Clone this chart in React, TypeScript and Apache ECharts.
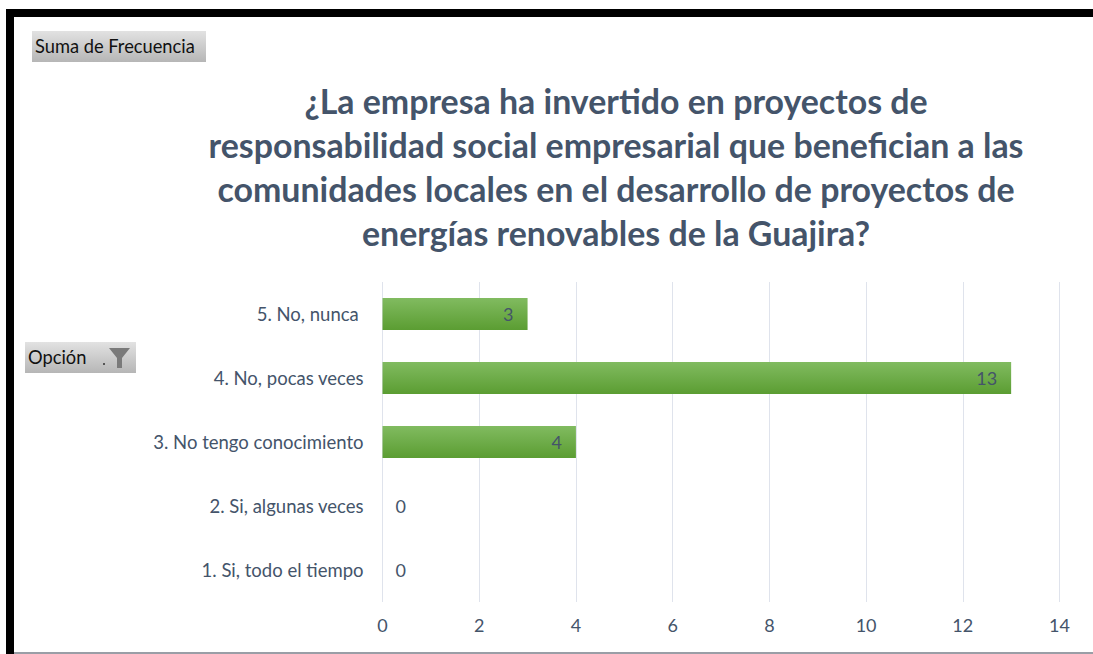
import React, { useEffect, useRef } from "react";
import * as echarts from "echarts";

const categories = ["1. Si, todo el tiempo", "2. Si, algunas veces", "3. No tengo conocimiento", "4. No, pocas veces", "5. No, nunca "];
const values = [0, 0, 4, 13, 3];
const titleText = "¿La empresa ha invertido en proyectos de\nresponsabilidad social empresarial que benefician a las\ncomunidades locales en el desarrollo de proyectos de\nenergías renovables de la Guajira?";
const fieldValue = "Suma de Frecuencia";
const fieldAxis = "Opción";

const FONT = "Lato, 'Open Sans', sans-serif";
const SLATE = "#44546a";

const btnFill = () =>
  new echarts.graphic.LinearGradient(0, 0, 0, 1, [
    { offset: 0, color: "#e2e2e2" },
    { offset: 1, color: "#b6b6b6" },
  ]);

export default function App() {
  const ref = useRef<HTMLDivElement>(null);
  useEffect(() => {
    document.body.style.margin = "0";
    const chart = echarts.init(ref.current!, undefined, { renderer: "svg" });
    chart.setOption({
      animation: false,
      backgroundColor: "#ffffff",
      title: {
        text: titleText,
        left: 611,
        top: 74,
        textAlign: "center",
        textStyle: { fontFamily: FONT, fontSize: 33.9, fontWeight: "bold", color: SLATE, lineHeight: 44, align: "center" },
      },
      grid: { left: 382.5, right: 33.5, top: 282, height: 320, containLabel: false },
      xAxis: {
        type: "value",
        min: 0,
        max: 14,
        interval: 2,
        axisLine: { show: false },
        axisTick: { show: false },
        axisLabel: { fontFamily: FONT, fontSize: 18, color: SLATE, margin: 14 },
        splitLine: { show: true, lineStyle: { color: "#dfe3ec", width: 1 } },
      },
      yAxis: {
        type: "category",
        data: categories,
        axisLine: { show: false },
        axisTick: { show: false },
        axisLabel: { fontFamily: FONT, fontSize: 18.5, color: SLATE, margin: 19, padding: [0, 0, 3, 0] },
      },
      series: [
        {
          type: "bar",
          data: values.map((v) => ({
            value: v,
            label: { position: v === 0 ? "right" : "insideRight", distance: v === 0 ? 13 : 14 },
          })),
          barWidth: 32,
          itemStyle: {
            color: new echarts.graphic.LinearGradient(0, 0, 0, 1, [
              { offset: 0, color: "#81bb60" },
              { offset: 1, color: "#5b9d32" },
            ]),
          },
          label: { show: true, fontFamily: FONT, fontSize: 18, color: SLATE, padding: [0, 0, 2, 0] },
        },
      ],
      graphic: [
        { type: "rect", shape: { x: 6, y: 9, width: 1087, height: 8 }, style: { fill: "#000" } },
        { type: "rect", shape: { x: 6, y: 9, width: 8, height: 645 }, style: { fill: "#000" } },
        { type: "rect", shape: { x: 14, y: 652, width: 1079, height: 2 }, style: { fill: "#9a9ea6" } },
        { type: "rect", shape: { x: 32, y: 31, width: 174, height: 31 }, style: { fill: btnFill() } },
        { type: "text", x: 35, y: 46, style: { text: fieldValue, fontFamily: FONT, fontSize: 18.3, fill: "#111", textVerticalAlign: "middle" } },
        { type: "rect", shape: { x: 25, y: 342, width: 111, height: 31 }, style: { fill: btnFill() } },
        { type: "text", x: 28, y: 357, style: { text: fieldAxis, fontFamily: FONT, fontSize: 18.3, fill: "#111", textVerticalAlign: "middle" } },
        { type: "polygon", shape: { points: [[109, 348], [130, 348], [122, 358], [122, 368], [117, 368], [117, 358]] }, style: { fill: "#7a7a7a" } },
        { type: "rect", shape: { x: 103, y: 363, width: 2, height: 2 }, style: { fill: "#555" } },
      ],
    });
    return () => chart.dispose();
  }, []);
  return <div ref={ref} style={{ width: 1093, height: 654, position: "absolute", left: 0, top: 0 }} />;
}
